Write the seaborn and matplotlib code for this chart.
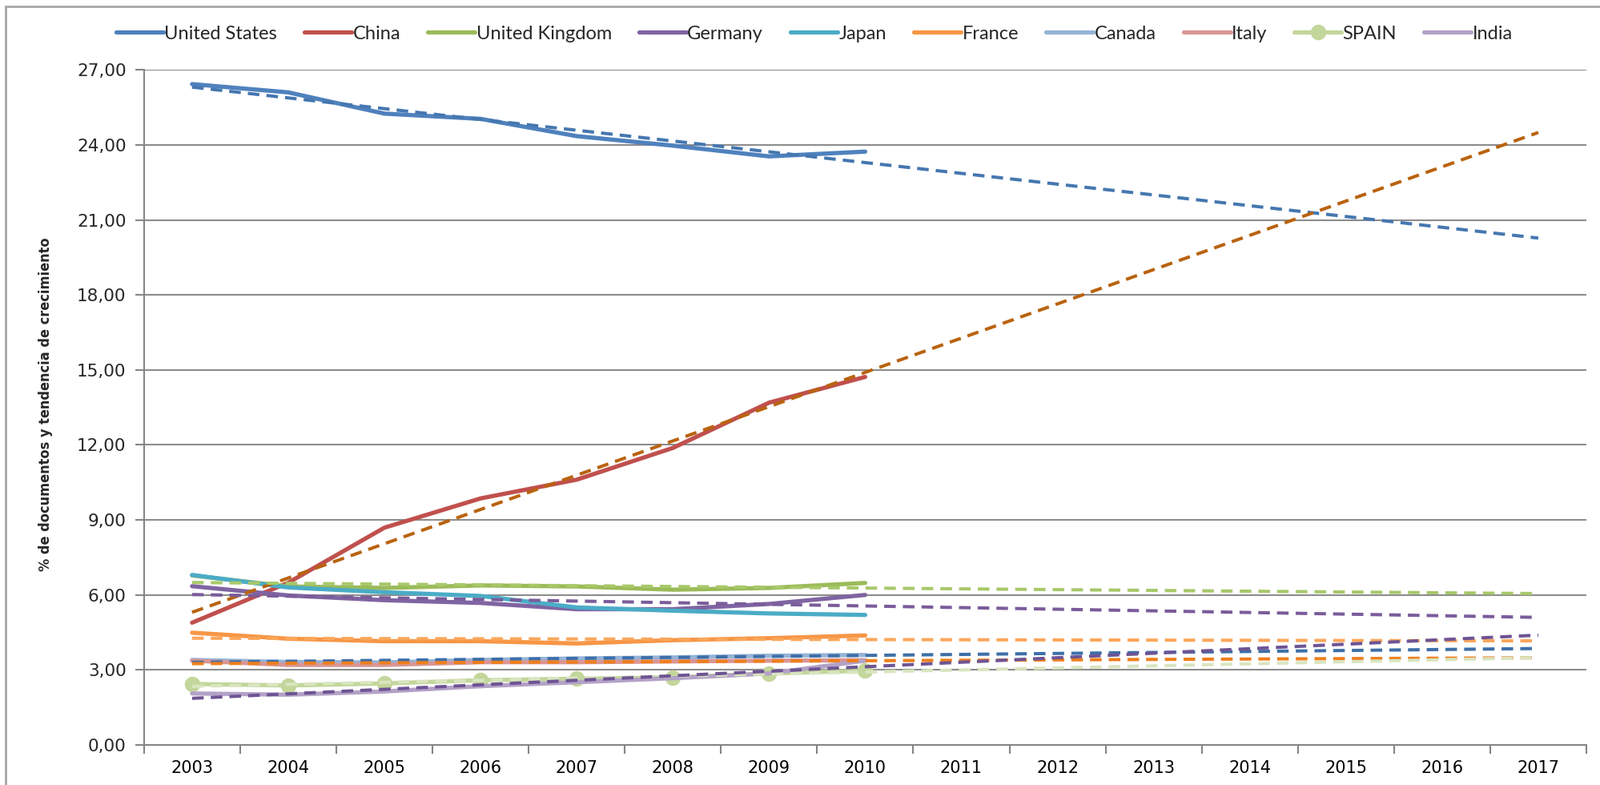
import numpy as np
import pandas as pd
import seaborn as sns
import matplotlib
matplotlib.use('Agg')
import matplotlib.pyplot as plt
from matplotlib import font_manager
from matplotlib.patches import Rectangle
from matplotlib.ticker import FuncFormatter, FixedLocator

# observed years and forecast horizon for the trend lines
years = [2003, 2004, 2005, 2006, 2007, 2008, 2009, 2010]
years_all = list(range(2003, 2018))

# % of documents per country
united_states = [26.43, 26.10, 25.25, 25.04, 24.35, 23.97, 23.54, 23.73]
china = [4.89, 6.49, 8.69, 9.86, 10.61, 11.88, 13.69, 14.72]
united_kingdom = [6.78, 6.34, 6.28, 6.38, 6.34, 6.21, 6.28, 6.48]
germany = [6.35, 5.98, 5.79, 5.68, 5.43, 5.43, 5.64, 6.00]
japan = [6.80, 6.30, 6.11, 5.96, 5.50, 5.37, 5.26, 5.20]
france = [4.49, 4.25, 4.15, 4.15, 4.06, 4.19, 4.27, 4.38]
canada = [3.40, 3.32, 3.30, 3.40, 3.46, 3.50, 3.57, 3.60]
italy = [3.37, 3.20, 3.20, 3.31, 3.31, 3.34, 3.37, 3.39]
spain = [2.44, 2.38, 2.46, 2.59, 2.65, 2.70, 2.86, 2.97]
india = [2.06, 2.01, 2.14, 2.35, 2.51, 2.67, 2.86, 3.37]

names = ['United States', 'China', 'United Kingdom', 'Germany', 'Japan',
         'France', 'Canada', 'Italy', 'SPAIN', 'India']
series = [united_states, china, united_kingdom, germany, japan,
          france, canada, italy, spain, india]
line_colors = ['#4F81BD', '#C0504D', '#9BBB59', '#8064A2', '#4BACC6',
               '#F79646', '#95B3D7', '#D99694', '#C3D69B', '#B3A2C7']

# linear trend lines (Japan has none in the original)
trend_colors = {'United States': '#4577B0', 'China': '#B9630F',
                'United Kingdom': '#A8C86A', 'Germany': '#7A5C9A',
                'France': '#FBA65A', 'Canada': '#3E6FA8', 'Italy': '#EE7F1C',
                'SPAIN': '#D9E5C0', 'India': '#6E5494'}

sns.set_theme(style='white')
plt.rcParams['font.family'] = ['DejaVu Sans']


# pick a condensed bold font for the y label if one is installed
def condensed_font():
    try:
        path = font_manager.findfont(
            font_manager.FontProperties(family='Liberation Sans Narrow', weight='bold'),
            fallback_to_default=False)
        if 'Narrow' in path:
            return {'family': 'Liberation Sans Narrow', 'size': 16}
    except ValueError:
        pass
    path = font_manager.findfont(
        font_manager.FontProperties(family='DejaVu Sans', weight='bold', stretch='condensed'))
    if 'Condensed' in path:
        return {'family': 'DejaVu Sans', 'stretch': 'condensed', 'size': 13}
    return {'family': 'Roboto', 'size': 13}


fig = plt.figure(figsize=(19.98, 9.8), dpi=100)
ax = fig.add_axes([0.090, 0.051, 0.9015, 0.860])

# solid observed lines
for name, vals, c in zip(names, series, line_colors):
    if name == 'SPAIN':
        sns.lineplot(x=years, y=vals, color=c, linewidth=3.8, marker='o',
                     markersize=14, markeredgewidth=0, label=name, ax=ax,
                     solid_capstyle='round')
    else:
        sns.lineplot(x=years, y=vals, color=c, linewidth=3.8, label=name, ax=ax,
                     solid_capstyle='round')

# dashed trend lines, fitted on the observed years
for name, vals in zip(names, series):
    if name not in trend_colors:
        continue
    coef = np.polyfit(years, vals, 1)
    trend = np.polyval(coef, years_all)
    sns.lineplot(x=years_all, y=trend, color=trend_colors[name], linewidth=2.9,
                 linestyle=(0, (3.6, 2.2)), ax=ax)

# axes styling like Excel
ax.set_xlim(2002.5, 2017.5)
ax.set_ylim(0, 27)
ax.set_yticks(np.arange(0, 27.01, 3))
ax.yaxis.set_major_formatter(FuncFormatter(lambda v, p: f'{v:.2f}'.replace('.', ',')))
ax.set_xticks(years_all)
ax.xaxis.set_minor_locator(FixedLocator(np.arange(2002.5, 2018, 1)))
ax.tick_params(axis='x', which='major', length=0, pad=14, labelsize=15, colors='black')
ax.tick_params(axis='x', which='minor', length=8, width=1.5, color='#868686', bottom=True)
ax.tick_params(axis='y', which='major', length=8, width=1.5, color='#868686',
               labelsize=15.5, pad=8, left=True)
ax.grid(axis='y', color='#8c8c8c', linewidth=1.5)
ax.set_axisbelow(True)
for side in ['top', 'right']:
    ax.spines[side].set_visible(False)
for side in ['left', 'bottom']:
    ax.spines[side].set_color('#868686')
    ax.spines[side].set_linewidth(1.5)

ax.set_xlabel('')
yfont = condensed_font()
ax.set_ylabel('% de documentos y tendencia de crecimiento', fontweight='bold',
              fontdict=yfont)
ax.yaxis.set_label_coords(-0.0632, 0.505)

# legend with only the observed series
handles, labels = ax.get_legend_handles_labels()
fig.legend(handles[:10], labels[:10], loc='center', bbox_to_anchor=(0.509, 0.957),
           ncol=10, frameon=False, handlelength=2.5, handletextpad=0.05,
           columnspacing=1.45, prop={'family': 'Lato', 'size': 17})
ax.legend_.remove()

# outer chart border
fig.patches.append(Rectangle((0.0035, -0.05), 1.2, 1.0418, transform=fig.transFigure,
                             fill=False, edgecolor='#a6a6a6', linewidth=2))

fig.savefig('out.png', dpi=100)
